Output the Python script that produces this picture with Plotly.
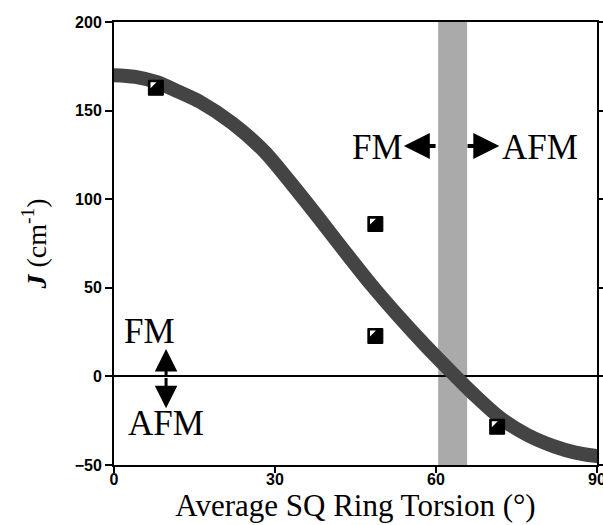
import plotly.graph_objects as go

# Model curve
curve_x = [-1, 0, 4, 8, 12, 16, 22, 28, 33, 38, 43, 48, 53, 58, 63, 67, 72, 77, 82, 86, 90, 91]
curve_y = [170, 170, 169, 166, 160.7, 155, 143, 127, 109, 90, 70.5, 51.5, 34, 17.5, 2, -10, -23.5, -33, -39.5, -43, -45, -45.2]

# Experimental points
pts_x = [7.8, 48.7, 48.7, 71.4]
pts_y = [162.9, 86, 22.8, -28.4]

# Crossover band
band = [60.4, 65.8]

x_ticks = [0, 30, 60, 90]
y_ticks = [-50, 0, 50, 100, 150, 200]

serif = "Liberation Serif"
sans = "Liberation Sans, Arial"

X_RANGE = [0, 90]
Y_RANGE = [-50, 200]
# pixel offset of the white corner triangle inside each square marker (in axis units)
TRI_DX = 0.63
TRI_DY = 1.92

fig = go.Figure()

fig.add_shape(type="rect", xref="x", yref="y", x0=band[0], x1=band[1], y0=-51.5, y1=200,
              fillcolor="#aaaaaa", line=dict(width=0), layer="below")

fig.add_trace(go.Scatter(x=curve_x, y=curve_y, mode="lines",
                         line=dict(color="#444444", width=14, shape="spline", smoothing=0.8),
                         hoverinfo="skip", showlegend=False, cliponaxis=False))

fig.add_trace(go.Scatter(x=pts_x, y=pts_y, mode="markers",
                         marker=dict(symbol="square", size=15, color="black",
                                     line=dict(color="black", width=1)),
                         showlegend=False))
fig.add_trace(go.Scatter(x=pts_x, y=pts_y, mode="markers", xaxis="x2", yaxis="y2",
                         marker=dict(symbol="triangle-nw", size=6.6, color="white",
                                     line=dict(width=0)),
                         showlegend=False, hoverinfo="skip"))

ann = []
# top FM / AFM labels
ann.append(dict(x=49.1, y=129, text="FM", showarrow=False, font=dict(family=serif, size=35, color="black")))
ann.append(dict(x=79.3, y=129, text="AFM", showarrow=False, font=dict(family=serif, size=35, color="black")))
ann.append(dict(x=54.0, y=130, ax=60.2, ay=130, axref="x", ayref="y", text="", showarrow=True,
                arrowhead=2, arrowsize=1.3, arrowwidth=4, arrowcolor="black"))
ann.append(dict(x=71.8, y=130, ax=65.6, ay=130, axref="x", ayref="y", text="", showarrow=True,
                arrowhead=2, arrowsize=1.3, arrowwidth=4, arrowcolor="black"))
# bottom-left FM / AFM
ann.append(dict(x=6.7, y=25.6, text="FM", showarrow=False, font=dict(family=serif, size=35, color="black")))
ann.append(dict(x=9.6, y=-26.3, text="AFM", showarrow=False, font=dict(family=serif, size=35, color="black")))
ann.append(dict(x=9.7, y=15.5, ax=9.7, ay=0, axref="x", ayref="y", text="", showarrow=True,
                arrowhead=2, arrowsize=1.5, arrowwidth=3, arrowcolor="black"))
ann.append(dict(x=9.7, y=-18, ax=9.7, ay=0, axref="x", ayref="y", text="", showarrow=True,
                arrowhead=2, arrowsize=1.5, arrowwidth=3, arrowcolor="black"))

fig.update_layout(
    width=603, height=525,
    margin=dict(l=114, r=6, t=22, b=60),
    plot_bgcolor="white", paper_bgcolor="white",
    annotations=ann,
    showlegend=False,
    xaxis=dict(range=X_RANGE, tickvals=x_ticks, ticks="outside", ticklen=6, tickwidth=2,
               tickcolor="black", showline=True, linecolor="black", linewidth=2, mirror=True,
               showgrid=False, zeroline=False, automargin=False,
               ticklabeloverflow="allow", ticklabelstandoff=-7,
               tickfont=dict(family=sans, size=16, color="black", weight="bold"),
               title=dict(text="Average SQ Ring Torsion (°)", standoff=2,
                          font=dict(family=serif, size=31, color="black"))),
    yaxis=dict(range=Y_RANGE, tickvals=y_ticks, ticks="outside", ticklen=7, tickwidth=2,
               tickcolor="black", showline=True, linecolor="black", linewidth=2, mirror="ticks",
               showgrid=False, zeroline=True, zerolinecolor="black", zerolinewidth=2,
               automargin=False,
               tickfont=dict(family=sans, size=16, color="black", weight="bold"),
               title=dict(text="<b><i>J</i></b> (cm<sup>-1</sup>)", standoff=20,
                          font=dict(family=serif, size=28, color="black"))),
    xaxis2=dict(range=[X_RANGE[0] + TRI_DX, X_RANGE[1] + TRI_DX], overlaying="x", visible=False,
                automargin=False),
    yaxis2=dict(range=[Y_RANGE[0] - TRI_DY, Y_RANGE[1] - TRI_DY], overlaying="y", visible=False,
                automargin=False),
)

fig.write_html("out.html")
